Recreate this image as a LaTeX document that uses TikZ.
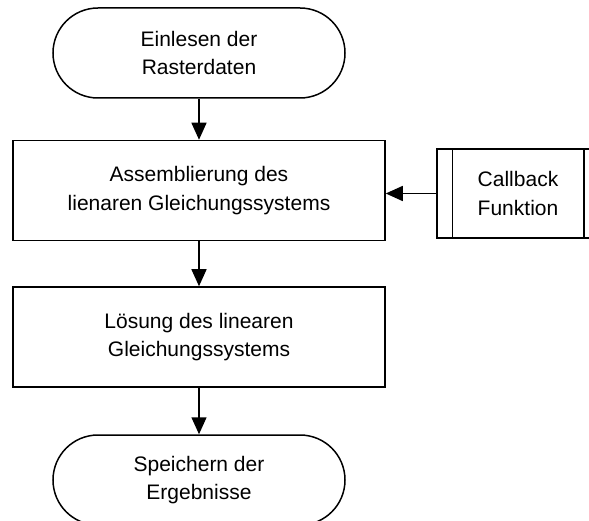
\documentclass[tikz,border=0pt]{standalone}
\usepackage{fontspec}
\setmainfont{Liberation Sans}
\usetikzlibrary{arrows.meta}
\begin{document}
\begin{tikzpicture}[x=1pt,y=-1pt,
  box/.style={draw, line width=1.5pt, align=center, inner sep=0pt,
    font=\fontsize{21}{28.5}\selectfont},
  terminal/.style={box, rounded corners=45pt, minimum width=292pt, minimum height=90pt},
  process/.style={box, minimum width=372pt, minimum height=100pt},
  subproc/.style={box, minimum width=162pt, minimum height=89pt},
  flow/.style={line width=1.5pt, -{Triangle[length=17pt,width=15pt]}}
]
\clip (0,0) rectangle (589,521);

\node[terminal] (start) at (199,53) {Einlesen der\\Rasterdaten};
\node[process] (assem) at (199,190.5) {Assemblierung des\\lienaren Gleichungssystems};
\node[process] (solve) at (199,337) {Lösung des linearen\\Gleichungssystems};
\node[terminal] (save) at (199,480) {Speichern der\\Ergebnisse};
\node[subproc] (cb) at (518,193.5) {Callback\\Funktion};

% side bars of the predefined-process box
\draw[line width=1.5pt] ([xshift=16pt]cb.north west) -- ([xshift=16pt]cb.south west);
\draw[line width=1.5pt] ([xshift=-16pt]cb.north east) -- ([xshift=-16pt]cb.south east);

\draw[flow] (start) -- (assem);
\draw[flow] (assem) -- (solve);
\draw[flow] (solve) -- (save);
\draw[flow] (cb.west) -- (cb.west -| assem.east);
\end{tikzpicture}
\end{document}
